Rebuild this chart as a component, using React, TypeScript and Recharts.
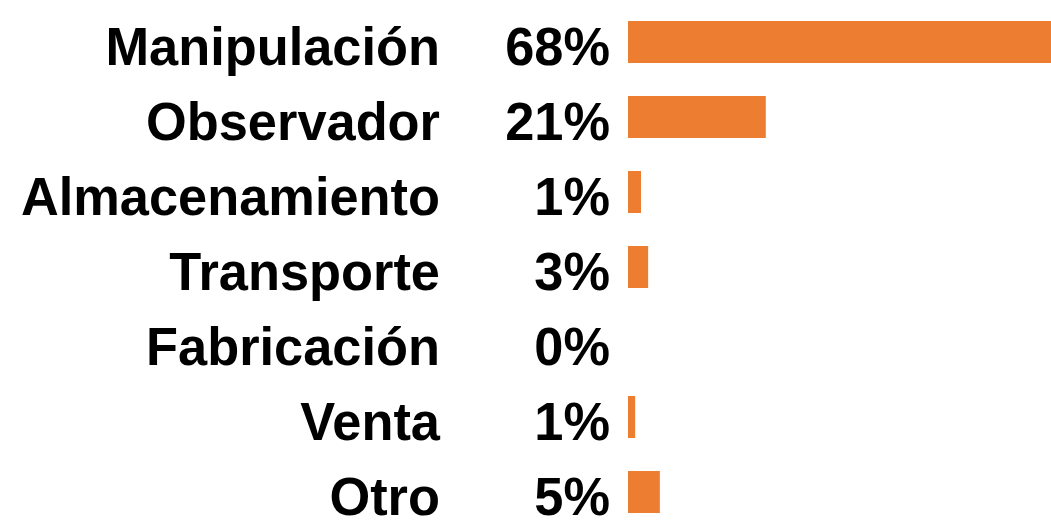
import { BarChart, Bar, XAxis, YAxis } from 'recharts'

const categories = [
  'Manipulación',
  'Observador',
  'Almacenamiento',
  'Transporte',
  'Fabricación',
  'Venta',
  'Otro',
]
const shares = [68, 21.2, 2.0, 3.1, 0, 1.1, 4.9]
const shareLabels = ['68%', '21%', '1%', '3%', '0%', '1%', '5%']

const data = categories.map((name, i) => ({
  name,
  value: shares[i],
  label: shareLabels[i],
}))

const font = '"Liberation Sans", Arial, sans-serif'

// narrow bold text, a bit taller than plain Arial bold
function Label({ x, y, children }: any) {
  return (
    <text
      transform={`translate(${x},${y}) scale(0.97,1)`}
      dy="0.355em"
      textAnchor="end"
      fontFamily={font}
      fontWeight="bold"
      fontSize={54}
      fill="#000"
    >
      {children}
    </text>
  )
}

function RowTick(props: any) {
  const { x, y, payload, index } = props
  return (
    <g>
      <Label x={x - 170} y={y + 4}>
        {payload.value}
      </Label>
      <Label x={x} y={y + 4}>
        {data[index]?.label}
      </Label>
    </g>
  )
}

export default function App() {
  return (
    <div
      style={{
        position: 'fixed',
        left: 0,
        top: 0,
        width: 1051,
        height: 523,
        overflow: 'hidden',
        background: '#fff',
      }}
    >
      <BarChart
        width={1080}
        height={540}
        data={data}
        layout="vertical"
        margin={{ top: 4, right: 10, bottom: 11, left: 0 }}
      >
        <XAxis type="number" domain={[0, 68]} hide />
        <YAxis
          type="category"
          dataKey="name"
          width={628}
          axisLine={false}
          tickLine={false}
          tickSize={0}
          tickMargin={18}
          tick={<RowTick />}
          interval={0}
        />
        <Bar dataKey="value" fill="#ED7D31" barSize={42} isAnimationActive={false} />
      </BarChart>
    </div>
  )
}
